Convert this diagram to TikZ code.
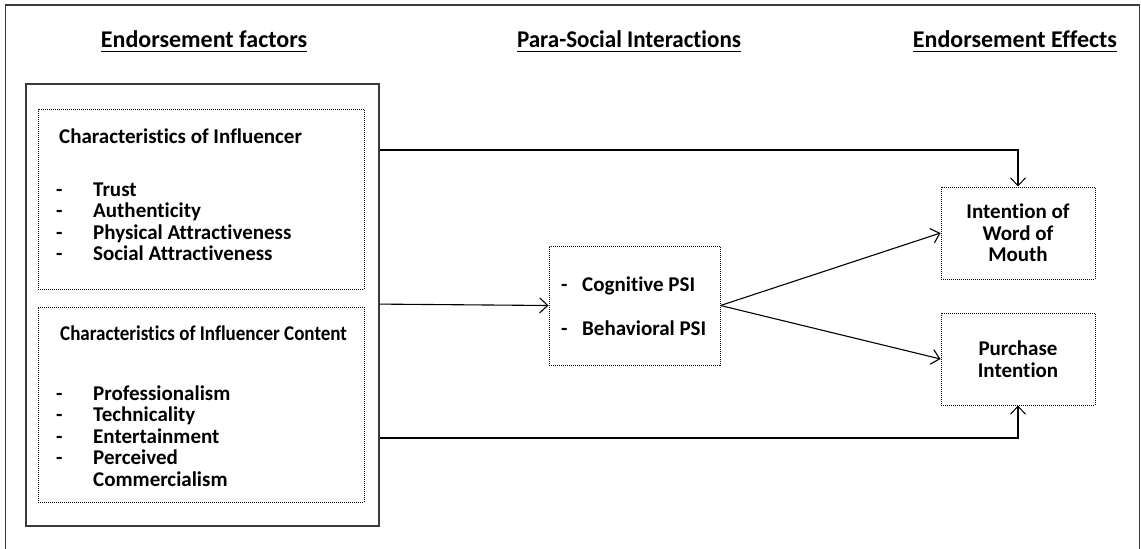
\documentclass[tikz,border=0pt]{standalone}
\usepackage{fontspec}
\usepackage{graphicx}
\setmainfont{Carlito}[RawFeature={-liga}]
\usetikzlibrary{arrows.meta,calc}
\definecolor{frameline}{HTML}{3A3A3A}
\tikzset{
  title/.style={font=\bfseries\fontsize{24}{28}\selectfont, inner sep=0pt, anchor=base},
  uline/.style={line width=1.6pt},
  item/.style={font=\bfseries\fontsize{21}{24}\selectfont, anchor=base west, inner sep=0pt},
  dotbox/.style={draw=black, line width=1pt, dash pattern=on 1pt off 1pt, inner sep=0pt},
  solidbox/.style={draw=frameline, line width=1.8pt, inner sep=0pt},
  link/.style={line width=2.3pt, -{Straight Barb[length=8pt,width=15pt,line width=1pt]}},
  diag/.style={line width=1.1pt, -{Straight Barb[length=8pt,width=15pt]}},
}
\begin{document}
\begin{tikzpicture}[x=1pt,y=-1pt]
\useasboundingbox (0,0) rectangle (1141,549);
% outer frame (its lower edge lies past the page)
\node[solidbox, line width=1.5pt, minimum width=1134pt, minimum height=550pt] (frame) at (572.5,280) {};

% column titles
\node[title] (t1) at (204,47) {Endorsement factors};
\node[title] (t2) at (629,47) {\scalebox{0.96}[1]{Para-Social Interactions}};
\node[title] (t3) at (1015,47) {Endorsement Effects};
\foreach \t in {t1,t2,t3}
  \draw[uline] ($(\t.base west)+(0,4.5)$) -- ($(\t.base east)+(0,4.5)$);

% left group of factors
\node[solidbox, minimum width=353pt, minimum height=442pt] (factors) at (202.5,305) {};
\node[dotbox, minimum width=326pt, minimum height=180pt] (infl) at (201,199) {};
\node[dotbox, minimum width=326pt, minimum height=195pt] (content) at (201,404.5) {};

\node[item] (h1) at (59,143) {Characteristics of Influencer};
\node[item] (d1) at (56,196) {-};
\node[item] (i1) at (93,196) {Trust};
\node[item] (d2) at (56,217.5) {-};
\node[item] (i2) at (93,217.5) {Authenticity};
\node[item] (d3) at (56,239) {-};
\node[item] (i3) at (93,239) {Physical Attractiveness};
\node[item] (d4) at (56,260.5) {-};
\node[item] (i4) at (93,260.5) {Social Attractiveness};

\node[item] (h2) at (60,340) {\scalebox{0.905}[1]{Characteristics of Influencer Content}};
\node[item] (e1) at (56,400) {-};
\node[item] (j1) at (93,400) {Professionalism};
\node[item] (e2) at (56,421.5) {-};
\node[item] (j2) at (93,421.5) {Technicality};
\node[item] (e3) at (56,443) {-};
\node[item] (j3) at (93,443) {Entertainment};
\node[item] (e4) at (56,464.5) {-};
\node[item] (j4) at (93,464.5) {Perceived};
\node[item] (j5) at (93,486) {Commercialism};

% para-social interactions
\node[dotbox, minimum width=171pt, minimum height=119pt] (psi) at (634.5,305.5) {};
\node[item] (p0) at (561,291) {-};
\node[item] (p1) at (582,291) {Cognitive PSI};
\node[item] (p2) at (561,335) {-};
\node[item] (p3) at (582,335) {Behavioral PSI};

% endorsement effects
\node[dotbox, minimum width=154pt, minimum height=92pt, align=center,
      font=\bfseries\fontsize{21}{21.5}\selectfont] (wom) at (1018,233) {Intention of\\Word of\\Mouth};
\node[dotbox, minimum width=154pt, minimum height=92pt, align=center,
      font=\bfseries\fontsize{21}{21.5}\selectfont] (purchase) at (1018,359) {Purchase\\Intention};

% connectors
\coordinate (s1) at ($(factors.north east)+(0,67)$);
\coordinate (s2) at ($(factors.north east)+(0,221)$);
\coordinate (s3) at ($(factors.north east)+(0,355)$);
\draw[link] (s1) -| (wom.north);
\draw[link] (s3) -| (purchase.south);
\draw[diag] (s2) -- (psi.west);
\draw[diag] (psi.east) -- (wom.west);
\draw[diag] (psi.east) -- (purchase.west);
\end{tikzpicture}
\end{document}
